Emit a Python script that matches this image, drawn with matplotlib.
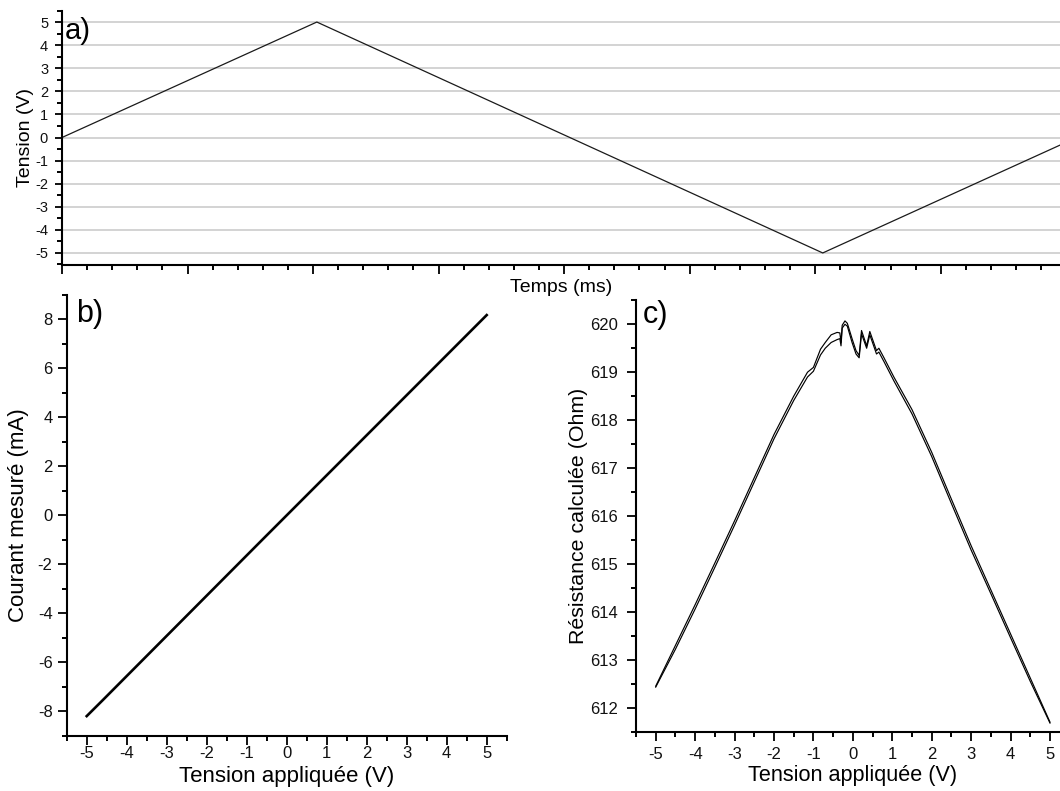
import matplotlib
matplotlib.use("Agg")
import matplotlib.pyplot as plt
from matplotlib.ticker import MultipleLocator, NullFormatter

plt.rcParams['font.family'] = ['Liberation Sans', 'DejaVu Sans']
plt.rcParams['axes.unicode_minus'] = False

# ---- Data ----
# a) triangular voltage vs time
temps = [0.0, 2.03, 6.06, 7.95]
tension_t = [0.0, 5.0, -5.0, -0.33]

# b) measured current vs applied voltage
tension_b = [-5.0, -4.6, -0.6, 5.0]
courant = [-8.2, -7.55, -0.98, 8.18]

# c) computed resistance vs applied voltage (two sweeps)
tension_c = [-5.0, -4.5, -4.0, -3.5, -3.0, -2.5, -2.0, -1.5, -1.15, -1.0, -0.82, -0.7,
             -0.55, -0.4, -0.33, -0.3, -0.27, -0.2, -0.14, -0.02, 0.08, 0.16, 0.22, 0.35,
             0.43, 0.6, 0.66, 0.79, 1.04, 1.5, 2.0, 2.5, 3.0, 3.5, 4.0, 4.5, 5.0]
resistance_aller = [612.45, 613.30, 614.15, 615.02, 615.90, 616.80, 617.70, 618.50, 619.00,
                    619.10, 619.48, 619.62, 619.78, 619.83, 619.82, 619.62, 619.98, 620.07,
                    620.02, 619.70, 619.45, 619.35, 619.87, 619.55, 619.85, 619.45, 619.50,
                    619.30, 618.90, 618.22, 617.33, 616.35, 615.38, 614.46, 613.54, 612.62,
                    611.70]
resistance_retour = [612.43, 613.22, 614.06, 614.93, 615.81, 616.71, 617.61, 618.41, 618.90,
                     619.02, 619.36, 619.50, 619.62, 619.68, 619.70, 619.55, 619.92, 620.00,
                     619.96, 619.62, 619.38, 619.30, 619.80, 619.50, 619.78, 619.38, 619.42,
                     619.22, 618.82, 618.13, 617.24, 616.26, 615.29, 614.38, 613.46, 612.55,
                     611.68]

W, H = 1060, 791
fig = plt.figure(figsize=(W / 100, H / 100), dpi=100)


def px_axes(left, top, right, bottom):
    return fig.add_axes([left / W, 1 - bottom / H, (right - left) / W, (bottom - top) / H])


def style(ax, tick_size, xpad, ypad):
    for s in ('top', 'right'):
        ax.spines[s].set_visible(False)
    for s in ('left', 'bottom'):
        ax.spines[s].set_linewidth(1.5)
    ax.tick_params(which='major', direction='out', length=6.2, width=1.4,
                   labelsize=tick_size, colors='#111111')
    ax.tick_params(which='minor', direction='out', length=3.8, width=1.4)
    ax.tick_params(axis='x', which='major', pad=xpad)
    ax.tick_params(axis='y', which='major', pad=ypad)


# ---- a) ----
axa = px_axes(62, 10.5, 1060, 264.5)
axa.plot(temps, tension_t, color='#1a1a1a', lw=0.9)
axa.set_xlim(0, 7.95)
axa.set_ylim(-5.5, 5.5)
axa.xaxis.set_major_locator(MultipleLocator(1))
axa.xaxis.set_minor_locator(MultipleLocator(0.2))
axa.xaxis.set_major_formatter(NullFormatter())
axa.yaxis.set_major_locator(MultipleLocator(1))
axa.yaxis.set_minor_locator(MultipleLocator(0.5))
axa.grid(axis='y', which='major', color='#d0d0d0', lw=1.3)
axa.set_axisbelow(True)
style(axa, 10.5, 2, 5)
axa.tick_params(axis='y', which='major', length=5)
axa.set_xlabel('Temps (ms)', fontsize=14, labelpad=2)
axa.set_ylabel('Tension (V)', fontsize=14, labelpad=1)
axa.text(0.003, 0.975, 'a)', transform=axa.transAxes, fontsize=21, va='top', ha='left')

# ---- b) ----
axb = px_axes(66.7, 295, 506.7, 735.7)
axb.plot(tension_b, courant, color='black', lw=1.9)
axb.set_xlim(-5.5, 5.5)
axb.set_ylim(-9, 9)
axb.xaxis.set_major_locator(MultipleLocator(1))
axb.xaxis.set_minor_locator(MultipleLocator(0.5))
axb.yaxis.set_major_locator(MultipleLocator(2))
axb.yaxis.set_minor_locator(MultipleLocator(1))
style(axb, 12, 1, 4)
axb.set_xlabel('Tension appliquée (V)', fontsize=16, labelpad=4)
axb.set_ylabel('Courant mesuré (mA)', fontsize=16, labelpad=6)
axb.text(0.022, 0.99, 'b)', transform=axb.transAxes, fontsize=22, va='top', ha='left')

# ---- c) ----
axc = px_axes(636, 300.3, 1069.7, 731.7)
axc.plot(tension_c, resistance_aller, color='black', lw=0.85)
axc.plot(tension_c, resistance_retour, color='black', lw=0.85)
axc.set_xlim(-5.5, 5.5)
axc.set_ylim(611.5, 620.5)
axc.xaxis.set_major_locator(MultipleLocator(1))
axc.xaxis.set_minor_locator(MultipleLocator(0.5))
axc.yaxis.set_major_locator(MultipleLocator(1))
axc.yaxis.set_minor_locator(MultipleLocator(0.5))
style(axc, 12, 5, 7)
axc.set_xlabel('Tension appliquée (V)', fontsize=15.6, labelpad=2)
axc.set_ylabel('Résistance calculée (Ohm)', fontsize=15.4, labelpad=1)
axc.text(0.015, 1.0, 'c)', transform=axc.transAxes, fontsize=22, va='top', ha='left')

fig.savefig('out.png', dpi=100)
